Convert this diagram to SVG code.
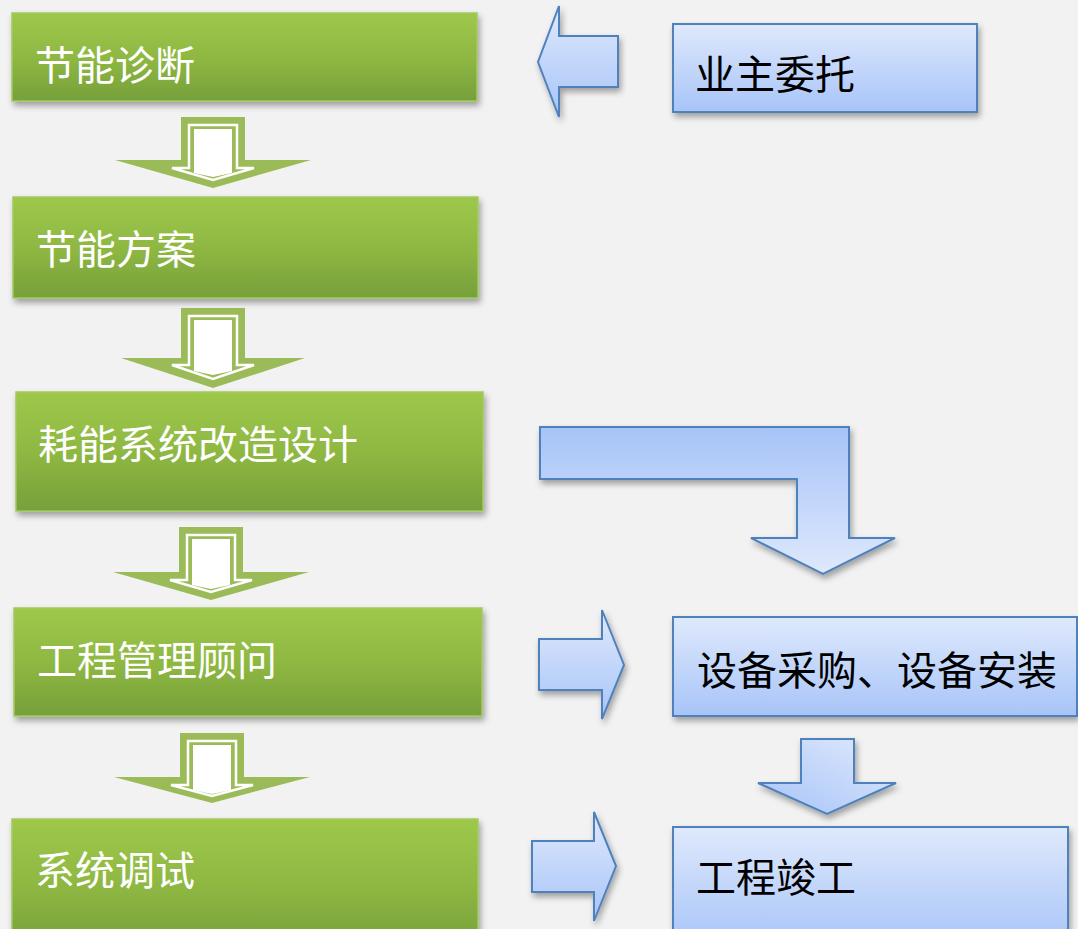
<svg xmlns="http://www.w3.org/2000/svg" width="1078" height="929" viewBox="0 0 1078 929">
<defs>
<linearGradient id="gG" x1="0" y1="0" x2="0" y2="1">
<stop offset="0" stop-color="#9ec84a"/>
<stop offset="0.5" stop-color="#8fb843"/>
<stop offset="1" stop-color="#76a03a"/>
</linearGradient>
<linearGradient id="bG" x1="0" y1="0" x2="0" y2="1">
<stop offset="0" stop-color="#dfe9fc"/>
<stop offset="1" stop-color="#a7c4f8"/>
</linearGradient>
<linearGradient id="bGr" x1="0" y1="0" x2="0" y2="1">
<stop offset="0" stop-color="#a6c3f8"/>
<stop offset="1" stop-color="#dfe9fc"/>
</linearGradient>
<linearGradient id="bGh" x1="0" y1="1" x2="1" y2="0">
<stop offset="0" stop-color="#a6c3f8"/>
<stop offset="1" stop-color="#e0eafc"/>
</linearGradient>
<filter id="sh" x="-10%" y="-20%" width="120%" height="150%">
<feDropShadow dx="2" dy="4" stdDeviation="3" flood-color="#000" flood-opacity="0.35"/>
</filter>
</defs>
<style>
.gbox{fill:url(#gG);stroke:#a3c960;stroke-width:1.5;filter:url(#sh)}
.bbox{fill:url(#bG);stroke:#4f81bd;stroke-width:2;filter:url(#sh)}
.barr{stroke:#4f81bd;stroke-width:2;stroke-linejoin:miter;filter:url(#sh)}
.garr{fill:#9bbb59}
.gin{fill:none;stroke:#fff;stroke-width:2.5}
.gfill{fill:#fff}
.wt{font-family:"Noto Sans CJK SC",sans-serif;font-size:40px;fill:#fff}
.bt{font-family:"Noto Sans CJK SC",sans-serif;font-size:40px;fill:#000}
</style>
<rect width="1078" height="929" fill="#f2f2f2"/>

<g id="connectors">
<g transform="translate(213,117)">
<path class="garr" d="M-32,0 L32,0 L32,43 L98,43 L0,71 L-98,43 L-32,43 Z"/>
<path class="gin" d="M-24,8 L24,8 L24,51 L41,51 L0,63 L-41,51 L-24,51 Z"/>
<path class="gfill" d="M-19,12 L19,12 L19,56 L0,60 L-19,56 Z"/>
</g>
<g transform="translate(213,308)">
<path class="garr" d="M-32,0 L32,0 L32,50 L92,50 L0,80 L-92,50 L-32,50 Z"/>
<path class="gin" d="M-24,8 L24,8 L24,57 L41,57 L0,71 L-41,57 L-24,57 Z"/>
<path class="gfill" d="M-19,12 L19,12 L19,63 L0,67 L-19,63 Z"/>
</g>
<g transform="translate(211,527)">
<path class="garr" d="M-32,0 L32,0 L32,45 L98,45 L0,73 L-98,45 L-32,45 Z"/>
<path class="gin" d="M-24,8 L24,8 L24,53 L41,53 L0,65 L-41,53 L-24,53 Z"/>
<path class="gfill" d="M-19,12 L19,12 L19,58 L0,62 L-19,58 Z"/>
</g>
<g transform="translate(212,733)">
<path class="garr" d="M-32,0 L32,0 L32,44 L98,44 L0,70 L-98,44 L-32,44 Z"/>
<path class="gin" d="M-24,8 L24,8 L24,52 L41,52 L0,63 L-41,52 L-24,52 Z"/>
<path class="gfill" d="M-19,12 L19,12 L19,57 L0,61 L-19,57 Z"/>
</g>
<path class="barr" fill="url(#bG)" d="M618,36 L559,36 L559,6 L538,62 L559,117 L559,87 L618,87 Z"/>
<path class="barr" fill="url(#bGr)" d="M540,427 L849,427 L849,538 L895,538 L823,574 L751,538 L797,538 L797,479 L540,479 Z"/>
<path class="barr" fill="url(#bG)" d="M539,639 L602,639 L602,610 L624,665 L602,719 L602,690 L539,690 Z"/>
<path class="barr" fill="url(#bGh)" d="M801,739 L854,739 L854,783 L896,783 L827,814 L758,783 L801,783 Z"/>
<path class="barr" fill="url(#bG)" d="M532,841 L594,841 L594,812 L616,866 L594,921 L594,892 L532,892 Z"/>
</g>

<g id="n1"><rect class="gbox" x="12" y="13" width="465" height="88"/><text class="wt" x="35" y="80">节能诊断</text></g>
<g id="n2"><rect class="gbox" x="13" y="197" width="465" height="101"/><text class="wt" x="36" y="264">节能方案</text></g>
<g id="n3"><rect class="gbox" x="16" y="392" width="467" height="119"/><text class="wt" x="38" y="459">耗能系统改造设计</text></g>
<g id="n4"><rect class="gbox" x="14" y="608" width="468" height="108"/><text class="wt" x="37" y="675">工程管理顾问</text></g>
<g id="n5"><rect class="gbox" x="12" y="819" width="466" height="130"/><text class="wt" x="35" y="885">系统调试</text></g>

<g id="b1"><rect class="bbox" x="673" y="24" width="304" height="88"/><text class="bt" x="695" y="89">业主委托</text></g>
<g id="b2"><rect class="bbox" x="673" y="617" width="404" height="99"/><text class="bt" x="697" y="685">设备采购、设备安装</text></g>
<g id="b3"><rect class="bbox" x="673" y="827" width="395" height="120"/><text class="bt" x="696" y="892">工程竣工</text></g>
</svg>
